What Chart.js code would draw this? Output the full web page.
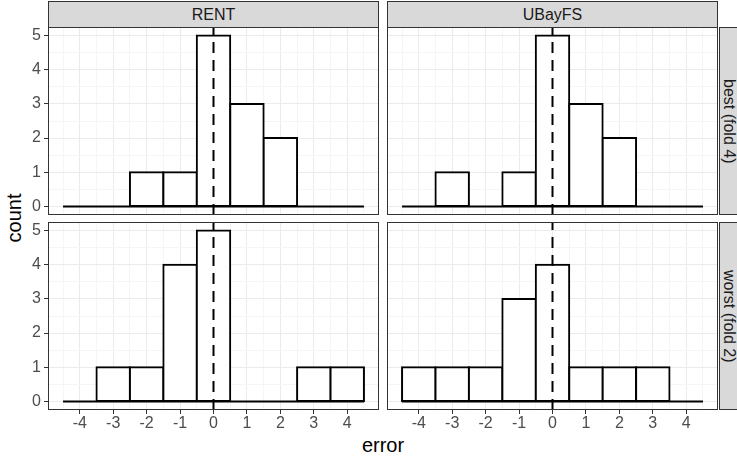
<!DOCTYPE html>
<html>
<head>
<meta charset="utf-8">
<script src="https://cdn.jsdelivr.net/npm/chart.js@4.4.0/dist/chart.umd.min.js"></script>
<style>
  body { margin: 0; background: #fff; font-family: 'Liberation Sans', Arial, sans-serif; }
  #wrap { position: relative; width: 737px; height: 457px; overflow: hidden; background: #fff; }
  #wrap canvas { position: absolute; }
  .strip { position: absolute; box-sizing: border-box; background: #d9d9d9; border: 1px solid #333;
           color: #1a1a1a; font-size: 16px; display: flex; align-items: center; justify-content: center; }
  .strip.side span { writing-mode: vertical-rl; }
  .title { position: absolute; font-size: 20px; color: #000; white-space: nowrap; }
</style>
</head>
<body>
<div id="wrap">
  <div class="title" id="ytitle">count</div>
  <div class="title" id="xtitle">error</div>
</div>
<script>
// histogram bins (error, width 1) and counts per facet
const errorBins = [-4, -3, -2, -1, 0, 1, 2, 3, 4];
const rentBest    = [0, 0, 1, 1, 5, 3, 2, 0, 0];
const ubayfsBest  = [0, 1, 0, 1, 5, 3, 2, 0, 0];
const rentWorst   = [0, 1, 1, 4, 5, 0, 0, 1, 1];
const ubayfsWorst = [1, 1, 1, 3, 4, 1, 1, 1, 0];

const methods = ['RENT', 'UBayFS'];
const folds = ['best (fold 4)', 'worst (fold 2)'];
const counts = [[rentBest, ubayfsBest], [rentWorst, ubayfsWorst]];

// reference line (zero error) and axis breaks
const refLine = [0];
const xTicks = [-4, -3, -2, -1, 0, 1, 2, 3, 4];
const yTicks = [0, 1, 2, 3, 4, 5];

// layout of the facet grid
const colLeft = [48, 387];
const rowTop = [27, 222];
const PW = 331, PH = 188;
const Y_AXIS_W = 48, X_AXIS_H = 32;

const wrap = document.getElementById('wrap');

// scale ranges like ggplot (5% expansion)
const binWidth = 1, minorStep = 0.5;
const binLo = errorBins[0] - binWidth / 2, binHi = errorBins[errorBins.length - 1] + binWidth / 2;
const xPad = (binHi - binLo) * 0.05;
const yMaxCount = Math.max(...counts.flat(2));
const yPad = yMaxCount * 0.05;

// minor breaks halfway between majors
function withMinor(majors, lo, hi) {
  const out = [];
  const first = majors[0] - minorStep;
  if (first >= lo) out.push(first);
  majors.forEach(m => {
    out.push(m);
    if (m + minorStep <= hi) out.push(m + minorStep);
  });
  return out;
}
const xGrid = withMinor(xTicks, binLo - xPad, binHi + xPad);
const yGrid = withMinor(yTicks, -yPad, yMaxCount + yPad);

const isMajor = v => Number.isInteger(v);
const gridColor = ctx => isMajor(ctx.tick.value) ? '#ebebeb' : '#f5f5f5';
const tickColor = ctx => isMajor(ctx.tick.value) ? '#333333' : 'rgba(0,0,0,0)';
const tickFont = { family: "'Liberation Sans', Arial, sans-serif", size: 16 };

const panelDecor = {
  id: 'panelDecor',
  afterDatasetsDraw(chart) {
    const { ctx, chartArea: a, scales } = chart;
    ctx.save();
    refLine.forEach(v => {
      const px = scales.x.getPixelForValue(v);
      ctx.beginPath();
      ctx.setLineDash([11, 7]);
      ctx.lineWidth = 2;
      ctx.strokeStyle = '#000';
      ctx.moveTo(px, a.bottom);
      ctx.lineTo(px, a.top);
      ctx.stroke();
    });
    ctx.setLineDash([]);
    ctx.lineWidth = 1;
    ctx.strokeStyle = '#333';
    ctx.strokeRect(a.left + 0.5, a.top + 0.5, a.width - 1, a.height - 1);
    ctx.restore();
  }
};

function makePanel(r, c) {
  const showY = c === 0, showX = r === 1;
  const yW = showY ? Y_AXIS_W : 0, xH = showX ? X_AXIS_H : 0;
  const cv = document.createElement('canvas');
  cv.width = PW + yW; cv.height = PH + xH;
  cv.style.left = (colLeft[c] - yW) + 'px';
  cv.style.top = rowTop[r] + 'px';
  cv.style.width = cv.width + 'px';
  cv.style.height = cv.height + 'px';
  wrap.appendChild(cv);

  const vals = counts[r][c];
  const bars = errorBins.map((b, i) => ({ x: b, y: vals[i] })).filter(d => d.y > 0);
  const base = [{ x: binLo, y: 0 }, { x: binHi, y: 0 }];

  new Chart(cv, {
    type: 'bar',
    data: {
      datasets: [
        // bar ruler takes the minor tick spacing, so widen to a full bin
        { type: 'bar', data: bars, backgroundColor: '#ffffff', borderColor: '#000000', borderWidth: 2,
          borderSkipped: false, inflateAmount: 1, barPercentage: binWidth / minorStep,
          categoryPercentage: 1, order: 1 },
        { type: 'line', data: base, borderColor: '#000000', borderWidth: 2, pointRadius: 0, order: 2 }
      ]
    },
    options: {
      responsive: false,
      animation: false,
      events: [],
      layout: { padding: 0 },
      plugins: { legend: { display: false }, tooltip: { enabled: false } },
      scales: {
        x: {
          type: 'linear', min: binLo - xPad, max: binHi + xPad, offset: false,
          grid: { offset: false, color: gridColor, lineWidth: 1, drawTicks: showX, tickLength: 4,
                  tickColor: tickColor, tickWidth: 1 },
          border: { display: false },
          ticks: { display: showX, autoSkip: false, maxRotation: 0, minRotation: 0, padding: 0,
                   color: '#4d4d4d', font: tickFont,
                   callback: v => isMajor(v) ? String(v) : '' },
          afterBuildTicks: s => { s.ticks = xGrid.map(v => ({ value: v })); },
          afterFit: s => { s.height = xH; s.paddingLeft = 0; s.paddingRight = 0; }
        },
        y: {
          type: 'linear', min: -yPad, max: yMaxCount + yPad,
          grid: { color: gridColor, lineWidth: 1, drawTicks: showY, tickLength: 4,
                  tickColor: tickColor, tickWidth: 1 },
          border: { display: false },
          ticks: { display: showY, autoSkip: false, padding: 3, color: '#4d4d4d', font: tickFont,
                   callback: v => isMajor(v) ? String(v) : '' },
          afterBuildTicks: s => { s.ticks = yGrid.map(v => ({ value: v })); },
          afterFit: s => { s.width = yW; s.paddingTop = 0; s.paddingBottom = 0; }
        }
      }
    },
    plugins: [panelDecor]
  });
}

// strips
methods.forEach((m, c) => {
  const d = document.createElement('div');
  d.className = 'strip';
  d.style.left = colLeft[c] + 'px'; d.style.top = '1px';
  d.style.width = PW + 'px'; d.style.height = rowTop[0] + 'px';
  d.textContent = m;
  wrap.appendChild(d);
});
folds.forEach((f, r) => {
  const d = document.createElement('div');
  d.className = 'strip side';
  d.style.left = '719px'; d.style.top = rowTop[r] + 'px';
  d.style.width = '20px'; d.style.height = PH + 'px';
  const s = document.createElement('span');
  s.textContent = f;
  d.appendChild(s);
  wrap.appendChild(d);
});

for (let r = 0; r < 2; r++) for (let c = 0; c < 2; c++) makePanel(r, c);

// axis titles
const yt = document.getElementById('ytitle');
yt.style.left = '14px'; yt.style.top = '218px';
yt.style.transform = 'translate(-50%, -50%) rotate(-90deg)';
const xt = document.getElementById('xtitle');
xt.style.left = ((colLeft[0] + colLeft[1] + PW) / 2) + 'px'; xt.style.top = '445px';
xt.style.transform = 'translate(-50%, -50%)';
</script>
</body>
</html>
